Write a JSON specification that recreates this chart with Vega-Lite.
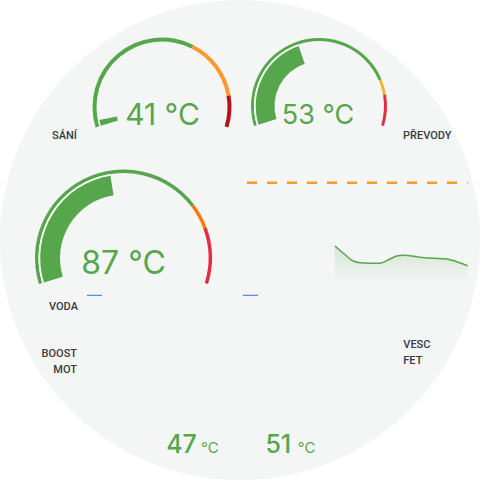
{
  "$schema": "https://vega.github.io/schema/vega-lite/v6.json",
  "width": 480,
  "height": 480,
  "autosize": {"type": "fit", "contains": "padding"},
  "padding": 0,
  "background": "#ffffff",
  "config": {
    "view": {"stroke": null},
    "axis": {"disable": true},
    "legend": {"disable": true},
    "font": "Inter",
    "locale": {"number": {"decimal": ".", "thousands": ",", "grouping": [3], "currency": ["", " °C"]}}
  },
  "datasets": {
    "gauges": [
      {"sensor": "SÁNÍ", "min": 40, "max": 80, "value": 41},
      {"sensor": "PŘEVODY", "min": 20, "max": 100, "value": 53},
      {"sensor": "VODA", "min": 0, "max": 190, "value": 87}
    ],
    "thresholds": [
      {"sensor": "SÁNÍ", "from": 40, "to": 65, "level": "semi-dark-green"},
      {"sensor": "SÁNÍ", "from": 65, "to": 75, "level": "orange"},
      {"sensor": "SÁNÍ", "from": 75, "to": 80, "level": "dark-red"},
      {"sensor": "PŘEVODY", "from": 20, "to": 85, "level": "semi-dark-green"},
      {"sensor": "PŘEVODY", "from": 85, "to": 90, "level": "yellow"},
      {"sensor": "PŘEVODY", "from": 90, "to": 100, "level": "semi-dark-red"},
      {"sensor": "VODA", "from": 0, "to": 142, "level": "semi-dark-green"},
      {"sensor": "VODA", "from": 142, "to": 157, "level": "semi-dark-orange"},
      {"sensor": "VODA", "from": 157, "to": 190, "level": "semi-dark-red"}
    ],
    "stats": [
      {"sensor": "BOOST MOT", "value": 47, "unit": "°C"},
      {"sensor": "VESC FET", "value": 51, "unit": "°C"}
    ],
    "history": [
      {"t": 23.9, "v": 49.7},
      {"t": 26.2, "v": 43.9},
      {"t": 28.9, "v": 37.7},
      {"t": 30.7, "v": 36.4},
      {"t": 36.2, "v": 35.9},
      {"t": 38.0, "v": 38.0},
      {"t": 40.7, "v": 41.7},
      {"t": 42.5, "v": 42.3},
      {"t": 47.0, "v": 40.7},
      {"t": 50.7, "v": 39.9},
      {"t": 54.3, "v": 39.3},
      {"t": 57.0, "v": 37.2},
      {"t": 60.0, "v": 34.0}
    ],
    "limit": [{"limit": 100}]
  },
  "layer": [
    {
      "layer": [
        {
          "data": {"values": [{}]},
          "mark": {"type": "arc", "radius": 240, "theta": 0, "theta2": 6.2832, "color": "#f4f5f5"},
          "encoding": {
            "x": {"datum": 240, "type": "quantitative", "scale": {"domain": [0, 480], "nice": false, "zero": false}},
            "y": {"datum": 240, "type": "quantitative", "scale": {"domain": [0, 480], "reverse": true, "nice": false, "zero": false}}
          }
        },
        {
          "layer": [
            {
              "data": {"name": "thresholds"},
              "transform": [{"filter": "datum.sensor === 'SÁNÍ'"}],
              "mark": {"type": "arc", "radius": 69.5, "radius2": 65.5},
              "encoding": {
                "x": {"datum": 162, "type": "quantitative", "scale": {"domain": [0, 480], "nice": false, "zero": false}},
                "y": {"datum": 107, "type": "quantitative", "scale": {"domain": [0, 480], "reverse": true, "nice": false, "zero": false}},
                "theta": {"field": "from", "type": "quantitative", "stack": null, "scale": {"domain": [40, 80], "range": [-1.87, 1.87], "zero": false, "nice": false}},
                "theta2": {"field": "to"},
                "color": {"field": "level", "type": "nominal", "legend": null, "scale": {"domain": ["semi-dark-green", "orange", "dark-red", "yellow", "semi-dark-red", "semi-dark-orange"], "range": ["#56a64b", "#ff9830", "#b5121b", "#eab839", "#e02f44", "#ff780a"]}}
              }
            },
            {
              "data": {"name": "gauges"},
              "transform": [{"filter": "datum.sensor === 'SÁNÍ'"}],
              "mark": {"type": "arc", "radius": 65.5, "radius2": 64, "color": "#ffffff"},
              "encoding": {
                "x": {"datum": 162, "type": "quantitative", "scale": {"domain": [0, 480], "nice": false, "zero": false}},
                "y": {"datum": 107, "type": "quantitative", "scale": {"domain": [0, 480], "reverse": true, "nice": false, "zero": false}},
                "theta": {"field": "min", "type": "quantitative", "stack": null, "scale": {"domain": [40, 80], "range": [-1.87, 1.87], "zero": false, "nice": false}},
                "theta2": {"field": "value"}
              }
            },
            {
              "data": {"name": "gauges"},
              "transform": [{"filter": "datum.sensor === 'SÁNÍ'"}],
              "mark": {"type": "arc", "radius": 64, "radius2": 46, "color": "#56a64b"},
              "encoding": {
                "x": {"datum": 162, "type": "quantitative", "scale": {"domain": [0, 480], "nice": false, "zero": false}},
                "y": {"datum": 107, "type": "quantitative", "scale": {"domain": [0, 480], "reverse": true, "nice": false, "zero": false}},
                "theta": {"field": "min", "type": "quantitative", "stack": null, "scale": {"domain": [40, 80], "range": [-1.87, 1.87], "zero": false, "nice": false}},
                "theta2": {"field": "value"}
              }
            },
            {
              "data": {"name": "gauges"},
              "transform": [{"filter": "datum.sensor === 'SÁNÍ'"}],
              "mark": {"type": "text", "align": "center", "baseline": "alphabetic", "fontSize": 30, "color": "#56a64b"},
              "encoding": {
                "x": {"datum": 162.5, "type": "quantitative", "scale": {"domain": [0, 480], "nice": false, "zero": false}},
                "y": {"datum": 125, "type": "quantitative", "scale": {"domain": [0, 480], "reverse": true, "nice": false, "zero": false}},
                "text": {"field": "value", "type": "quantitative", "format": "$d"}
              }
            }
          ]
        },
        {
          "layer": [
            {
              "data": {"name": "thresholds"},
              "transform": [{"filter": "datum.sensor === 'PŘEVODY'"}],
              "mark": {"type": "arc", "radius": 68, "radius2": 65},
              "encoding": {
                "x": {"datum": 319, "type": "quantitative", "scale": {"domain": [0, 480], "nice": false, "zero": false}},
                "y": {"datum": 106, "type": "quantitative", "scale": {"domain": [0, 480], "reverse": true, "nice": false, "zero": false}},
                "theta": {"field": "from", "type": "quantitative", "stack": null, "scale": {"domain": [20, 100], "range": [-1.87, 1.87], "zero": false, "nice": false}},
                "theta2": {"field": "to"},
                "color": {"field": "level", "type": "nominal", "legend": null, "scale": {"domain": ["semi-dark-green", "orange", "dark-red", "yellow", "semi-dark-red", "semi-dark-orange"], "range": ["#56a64b", "#ff9830", "#b5121b", "#eab839", "#e02f44", "#ff780a"]}}
              }
            },
            {
              "data": {"name": "gauges"},
              "transform": [{"filter": "datum.sensor === 'PŘEVODY'"}],
              "mark": {"type": "arc", "radius": 65, "radius2": 63.3, "color": "#ffffff"},
              "encoding": {
                "x": {"datum": 319, "type": "quantitative", "scale": {"domain": [0, 480], "nice": false, "zero": false}},
                "y": {"datum": 106, "type": "quantitative", "scale": {"domain": [0, 480], "reverse": true, "nice": false, "zero": false}},
                "theta": {"field": "min", "type": "quantitative", "stack": null, "scale": {"domain": [20, 100], "range": [-1.87, 1.87], "zero": false, "nice": false}},
                "theta2": {"field": "value"}
              }
            },
            {
              "data": {"name": "gauges"},
              "transform": [{"filter": "datum.sensor === 'PŘEVODY'"}],
              "mark": {"type": "arc", "radius": 63.3, "radius2": 44.5, "color": "#56a64b"},
              "encoding": {
                "x": {"datum": 319, "type": "quantitative", "scale": {"domain": [0, 480], "nice": false, "zero": false}},
                "y": {"datum": 106, "type": "quantitative", "scale": {"domain": [0, 480], "reverse": true, "nice": false, "zero": false}},
                "theta": {"field": "min", "type": "quantitative", "stack": null, "scale": {"domain": [20, 100], "range": [-1.87, 1.87], "zero": false, "nice": false}},
                "theta2": {"field": "value"}
              }
            },
            {
              "data": {"name": "gauges"},
              "transform": [{"filter": "datum.sensor === 'PŘEVODY'"}],
              "mark": {"type": "text", "align": "center", "baseline": "alphabetic", "fontSize": 27, "color": "#56a64b"},
              "encoding": {
                "x": {"datum": 318, "type": "quantitative", "scale": {"domain": [0, 480], "nice": false, "zero": false}},
                "y": {"datum": 123.5, "type": "quantitative", "scale": {"domain": [0, 480], "reverse": true, "nice": false, "zero": false}},
                "text": {"field": "value", "type": "quantitative", "format": "$d"}
              }
            }
          ]
        },
        {
          "layer": [
            {
              "data": {"name": "thresholds"},
              "transform": [{"filter": "datum.sensor === 'VODA'"}],
              "mark": {"type": "arc", "radius": 88.5, "radius2": 85},
              "encoding": {
                "x": {"datum": 123.5, "type": "quantitative", "scale": {"domain": [0, 480], "nice": false, "zero": false}},
                "y": {"datum": 258, "type": "quantitative", "scale": {"domain": [0, 480], "reverse": true, "nice": false, "zero": false}},
                "theta": {"field": "from", "type": "quantitative", "stack": null, "scale": {"domain": [0, 190], "range": [-1.87, 1.87], "zero": false, "nice": false}},
                "theta2": {"field": "to"},
                "color": {"field": "level", "type": "nominal", "legend": null, "scale": {"domain": ["semi-dark-green", "orange", "dark-red", "yellow", "semi-dark-red", "semi-dark-orange"], "range": ["#56a64b", "#ff9830", "#b5121b", "#eab839", "#e02f44", "#ff780a"]}}
              }
            },
            {
              "data": {"name": "gauges"},
              "transform": [{"filter": "datum.sensor === 'VODA'"}],
              "mark": {"type": "arc", "radius": 85, "radius2": 83.3, "color": "#ffffff"},
              "encoding": {
                "x": {"datum": 123.5, "type": "quantitative", "scale": {"domain": [0, 480], "nice": false, "zero": false}},
                "y": {"datum": 258, "type": "quantitative", "scale": {"domain": [0, 480], "reverse": true, "nice": false, "zero": false}},
                "theta": {"field": "min", "type": "quantitative", "stack": null, "scale": {"domain": [0, 190], "range": [-1.87, 1.87], "zero": false, "nice": false}},
                "theta2": {"field": "value"}
              }
            },
            {
              "data": {"name": "gauges"},
              "transform": [{"filter": "datum.sensor === 'VODA'"}],
              "mark": {"type": "arc", "radius": 83.3, "radius2": 63.5, "color": "#56a64b"},
              "encoding": {
                "x": {"datum": 123.5, "type": "quantitative", "scale": {"domain": [0, 480], "nice": false, "zero": false}},
                "y": {"datum": 258, "type": "quantitative", "scale": {"domain": [0, 480], "reverse": true, "nice": false, "zero": false}},
                "theta": {"field": "min", "type": "quantitative", "stack": null, "scale": {"domain": [0, 190], "range": [-1.87, 1.87], "zero": false, "nice": false}},
                "theta2": {"field": "value"}
              }
            },
            {
              "data": {"name": "gauges"},
              "transform": [{"filter": "datum.sensor === 'VODA'"}],
              "mark": {"type": "text", "align": "center", "baseline": "alphabetic", "fontSize": 32, "color": "#56a64b"},
              "encoding": {
                "x": {"datum": 123.5, "type": "quantitative", "scale": {"domain": [0, 480], "nice": false, "zero": false}},
                "y": {"datum": 274.3, "type": "quantitative", "scale": {"domain": [0, 480], "reverse": true, "nice": false, "zero": false}},
                "text": {"field": "value", "type": "quantitative", "format": "$d"}
              }
            }
          ]
        },
        {
          "data": {"values": [{}]},
          "mark": {"type": "text", "align": "left", "baseline": "alphabetic", "font": "Roboto", "fontSize": 11, "fontWeight": 500, "color": "#363b45", "text": "SÁNÍ"},
          "encoding": {
            "x": {"datum": 52, "type": "quantitative", "scale": {"domain": [0, 480], "nice": false, "zero": false}},
            "y": {"datum": 138.5, "type": "quantitative", "scale": {"domain": [0, 480], "reverse": true, "nice": false, "zero": false}}
          }
        },
        {
          "data": {"values": [{}]},
          "mark": {"type": "text", "align": "left", "baseline": "alphabetic", "font": "Roboto", "fontSize": 11, "fontWeight": 500, "color": "#363b45", "text": "PŘEVODY"},
          "encoding": {
            "x": {"datum": 403, "type": "quantitative", "scale": {"domain": [0, 480], "nice": false, "zero": false}},
            "y": {"datum": 138.5, "type": "quantitative", "scale": {"domain": [0, 480], "reverse": true, "nice": false, "zero": false}}
          }
        },
        {
          "data": {"values": [{}]},
          "mark": {"type": "text", "align": "left", "baseline": "alphabetic", "font": "Roboto", "fontSize": 11, "fontWeight": 500, "color": "#363b45", "text": "VODA"},
          "encoding": {
            "x": {"datum": 49, "type": "quantitative", "scale": {"domain": [0, 480], "nice": false, "zero": false}},
            "y": {"datum": 310, "type": "quantitative", "scale": {"domain": [0, 480], "reverse": true, "nice": false, "zero": false}}
          }
        },
        {
          "data": {"values": [{}]},
          "mark": {"type": "text", "align": "right", "baseline": "alphabetic", "font": "Roboto", "fontSize": 11, "fontWeight": 500, "color": "#363b45", "lineHeight": 15.5, "text": ["BOOST", "MOT"]},
          "encoding": {
            "x": {"datum": 77, "type": "quantitative", "scale": {"domain": [0, 480], "nice": false, "zero": false}},
            "y": {"datum": 357.3, "type": "quantitative", "scale": {"domain": [0, 480], "reverse": true, "nice": false, "zero": false}}
          }
        },
        {
          "data": {"values": [{}]},
          "mark": {"type": "text", "align": "left", "baseline": "alphabetic", "font": "Roboto", "fontSize": 11, "fontWeight": 500, "color": "#363b45", "lineHeight": 15.7, "text": ["VESC", "FET"]},
          "encoding": {
            "x": {"datum": 403.3, "type": "quantitative", "scale": {"domain": [0, 480], "nice": false, "zero": false}},
            "y": {"datum": 348.3, "type": "quantitative", "scale": {"domain": [0, 480], "reverse": true, "nice": false, "zero": false}}
          }
        },
        {
          "data": {"values": [{}]},
          "mark": {"type": "rule", "color": "#3274d9", "strokeWidth": 1},
          "encoding": {
            "x": {"datum": 87, "type": "quantitative", "scale": {"domain": [0, 480], "nice": false, "zero": false}},
            "x2": {"datum": 102},
            "y": {"datum": 295.3, "type": "quantitative", "scale": {"domain": [0, 480], "reverse": true, "nice": false, "zero": false}}
          }
        },
        {
          "data": {"values": [{}]},
          "mark": {"type": "rule", "color": "#3274d9", "strokeWidth": 1},
          "encoding": {
            "x": {"datum": 243, "type": "quantitative", "scale": {"domain": [0, 480], "nice": false, "zero": false}},
            "x2": {"datum": 258},
            "y": {"datum": 295.3, "type": "quantitative", "scale": {"domain": [0, 480], "reverse": true, "nice": false, "zero": false}}
          }
        }
      ],
      "resolve": {"scale": {"theta": "independent"}}
    },
    {
      "data": {"name": "stats"},
      "layer": [
        {
          "mark": {"type": "text", "align": "center", "baseline": "alphabetic", "fontSize": 25, "fontWeight": 500, "color": "#56a64b"},
          "encoding": {
            "x": {"field": "sensor", "type": "nominal", "scale": {"type": "point", "domain": ["BOOST MOT", "VESC FET"], "range": [181.5, 278.3], "padding": 0}},
            "y": {"datum": 453.3, "type": "quantitative", "scale": {"domain": [0, 480], "reverse": true, "nice": false, "zero": false}},
            "text": {"field": "value", "type": "quantitative"}
          }
        },
        {
          "mark": {"type": "text", "align": "left", "baseline": "alphabetic", "fontSize": 15, "color": "#56a64b", "dx": 19.5},
          "encoding": {
            "x": {"field": "sensor", "type": "nominal", "scale": {"type": "point", "domain": ["BOOST MOT", "VESC FET"], "range": [181.5, 278.3], "padding": 0}},
            "y": {"datum": 453.3, "type": "quantitative", "scale": {"domain": [0, 480], "reverse": true, "nice": false, "zero": false}},
            "text": {"field": "unit", "type": "nominal"}
          }
        }
      ]
    },
    {
      "layer": [
        {
          "data": {"name": "limit"},
          "mark": {"type": "rule", "color": "#ff9830", "strokeWidth": 2.5, "strokeDash": [10, 10]},
          "encoding": {
            "x": {"datum": 0, "type": "quantitative", "scale": {"domain": [0, 60], "range": [247, 467.7], "nice": false, "zero": false}},
            "x2": {"datum": 60},
            "y": {"field": "limit", "type": "quantitative", "scale": {"domain": [20, 100], "range": [283.3, 182.7], "nice": false, "zero": false}}
          }
        },
        {
          "data": {"name": "history"},
          "mark": {
            "type": "area",
            "interpolate": "monotone",
            "color": {"gradient": "linear", "x1": 0, "y1": 0, "x2": 0, "y2": 1, "stops": [{"offset": 0, "color": "rgba(86,166,75,0.2)"}, {"offset": 1, "color": "rgba(86,166,75,0)"}]}
          },
          "encoding": {
            "x": {"field": "t", "type": "quantitative", "scale": {"domain": [0, 60], "range": [247, 467.7], "nice": false, "zero": false}},
            "y": {"field": "v", "type": "quantitative", "scale": {"domain": [20, 100], "range": [283.3, 182.7], "nice": false, "zero": false}},
            "y2": {"datum": 20}
          }
        },
        {
          "data": {"name": "history"},
          "mark": {"type": "line", "interpolate": "monotone", "color": "#56a64b", "strokeWidth": 1.5},
          "encoding": {
            "x": {"field": "t", "type": "quantitative", "scale": {"domain": [0, 60], "range": [247, 467.7], "nice": false, "zero": false}},
            "y": {"field": "v", "type": "quantitative", "scale": {"domain": [20, 100], "range": [283.3, 182.7], "nice": false, "zero": false}}
          }
        }
      ]
    }
  ],
  "resolve": {"scale": {"x": "independent", "y": "independent"}}
}
